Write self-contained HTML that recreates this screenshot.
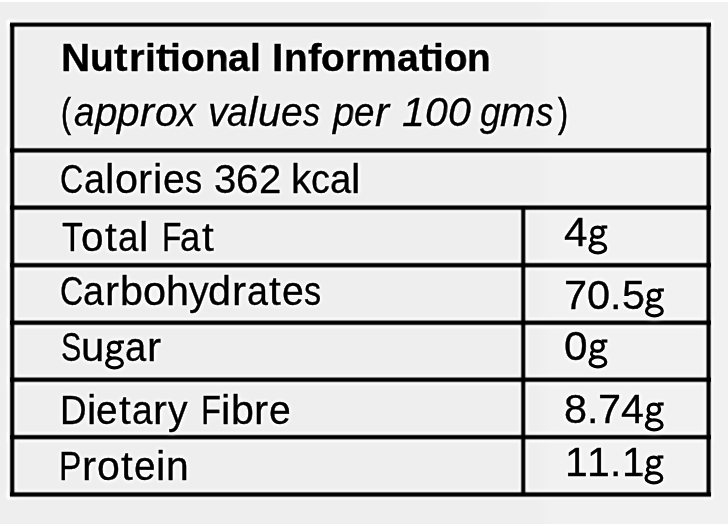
<!DOCTYPE html>
<html><head><meta charset="utf-8"><title>Nutritional Information</title>
<style>
html,body{margin:0;padding:0;}
body{width:728px;height:526px;position:relative;overflow:hidden;background:#ffffff;
 font-family:"Liberation Sans",sans-serif;color:#000;}
.bg{position:absolute;left:0;top:2px;width:728px;height:522px;background:linear-gradient(to right,#eeeeee 0,#eeeeee 536px,#f1f1f1 552px,#f1f1f1 100%);}
.glow{position:absolute;background:#fff;filter:blur(1.3px);opacity:1;}
.lh,.lv{position:absolute;}
.w{position:absolute;white-space:nowrap;line-height:1;color:#000;text-shadow:0 0 2px #fff,0 0 3px #fff,0 0 3px #fff,0 0 4px #fff,0 0 4px #fff,0 0 5px #fff,0 0 5px #fff;}
.w span{display:inline-block;transform-origin:0 0;}
.w span.hg{color:transparent;-webkit-text-stroke:0;text-shadow:none;}
.g{position:absolute;overflow:visible;filter:drop-shadow(0 0 1px #fff) drop-shadow(0 0 1.5px #fff) drop-shadow(0 0 2px #fff);}
.r{font-size:40.0px;-webkit-text-stroke:0.35px #000;}
.b{font-weight:bold;font-size:38.5px;-webkit-text-stroke:0.35px #000;}
.i{font-style:italic;font-size:40.0px;-webkit-text-stroke:0.3px #000;}
.p{font-size:41.0px;-webkit-text-stroke:0.7px #000;}
</style></head><body>
<div class="bg"></div>

<div class="glow" style="left:7.4px;top:19.9px;width:706.0px;height:9.5px"></div>
<div class="glow" style="left:7.4px;top:145.5px;width:706.0px;height:9.8px"></div>
<div class="glow" style="left:7.4px;top:202.7px;width:706.0px;height:9.8px"></div>
<div class="glow" style="left:7.4px;top:260.3px;width:706.0px;height:9.8px"></div>
<div class="glow" style="left:7.4px;top:317.8px;width:706.0px;height:9.8px"></div>
<div class="glow" style="left:7.4px;top:374.8px;width:706.0px;height:9.8px"></div>
<div class="glow" style="left:7.4px;top:432.3px;width:706.0px;height:9.7px"></div>
<div class="glow" style="left:7.4px;top:489.6px;width:706.0px;height:9.8px"></div>
<div class="glow" style="left:7.4px;top:19.9px;width:9.6px;height:479.5px"></div>
<div class="glow" style="left:703.8px;top:19.9px;width:9.6px;height:479.5px"></div>
<div class="glow" style="left:518.5px;top:205.4px;width:9.5px;height:291.3px"></div>
<div class="lh" style="left:10px;top:21px;width:701px;height:8px;background:linear-gradient(to bottom,rgba(0,0,0,0.028) 0px 1px,rgba(0,0,0,0.432) 1px 2px,rgba(0,0,0,0.940) 2px 3px,rgba(0,0,0,1.000) 3px 4px,rgba(0,0,0,0.982) 4px 5px,rgba(0,0,0,0.634) 5px 6px,rgba(0,0,0,0.084) 6px 7px,rgba(0,0,0,0.001) 7px 8px)"></div>
<div class="lh" style="left:10px;top:146px;width:701px;height:9px;background:linear-gradient(to bottom,rgba(0,0,0,0.001) 0px 1px,rgba(0,0,0,0.114) 1px 2px,rgba(0,0,0,0.696) 2px 3px,rgba(0,0,0,0.988) 3px 4px,rgba(0,0,0,1.000) 4px 5px,rgba(0,0,0,0.972) 5px 6px,rgba(0,0,0,0.568) 6px 7px,rgba(0,0,0,0.060) 7px 8px,rgba(0,0,0,0.000) 8px 9px)"></div>
<div class="lh" style="left:10px;top:203px;width:701px;height:9px;background:linear-gradient(to bottom,rgba(0,0,0,0.000) 0px 1px,rgba(0,0,0,0.060) 1px 2px,rgba(0,0,0,0.568) 2px 3px,rgba(0,0,0,0.972) 3px 4px,rgba(0,0,0,1.000) 4px 5px,rgba(0,0,0,0.988) 5px 6px,rgba(0,0,0,0.696) 6px 7px,rgba(0,0,0,0.114) 7px 8px,rgba(0,0,0,0.001) 8px 9px)"></div>
<div class="lh" style="left:10px;top:261px;width:701px;height:8px;background:linear-gradient(to bottom,rgba(0,0,0,0.004) 0px 1px,rgba(0,0,0,0.195) 1px 2px,rgba(0,0,0,0.805) 2px 3px,rgba(0,0,0,0.996) 3px 4px,rgba(0,0,0,1.000) 4px 5px,rgba(0,0,0,0.940) 5px 6px,rgba(0,0,0,0.432) 6px 7px,rgba(0,0,0,0.028) 7px 8px)"></div>
<div class="lh" style="left:10px;top:319px;width:701px;height:8px;background:linear-gradient(to bottom,rgba(0,0,0,0.041) 0px 1px,rgba(0,0,0,0.500) 1px 2px,rgba(0,0,0,0.959) 2px 3px,rgba(0,0,0,1.000) 3px 4px,rgba(0,0,0,0.993) 4px 5px,rgba(0,0,0,0.754) 5px 6px,rgba(0,0,0,0.151) 6px 7px,rgba(0,0,0,0.002) 7px 8px)"></div>
<div class="lh" style="left:10px;top:376px;width:701px;height:8px;background:linear-gradient(to bottom,rgba(0,0,0,0.041) 0px 1px,rgba(0,0,0,0.500) 1px 2px,rgba(0,0,0,0.959) 2px 3px,rgba(0,0,0,1.000) 3px 4px,rgba(0,0,0,0.993) 4px 5px,rgba(0,0,0,0.754) 5px 6px,rgba(0,0,0,0.151) 6px 7px,rgba(0,0,0,0.002) 7px 8px)"></div>
<div class="lh" style="left:10px;top:433px;width:701px;height:8px;background:linear-gradient(to bottom,rgba(0,0,0,0.004) 0px 1px,rgba(0,0,0,0.195) 1px 2px,rgba(0,0,0,0.805) 2px 3px,rgba(0,0,0,0.996) 3px 4px,rgba(0,0,0,0.999) 4px 5px,rgba(0,0,0,0.916) 5px 6px,rgba(0,0,0,0.366) 6px 7px,rgba(0,0,0,0.018) 7px 8px)"></div>
<div class="lh" style="left:10px;top:490px;width:701px;height:9px;background:linear-gradient(to bottom,rgba(0,0,0,0.001) 0px 1px,rgba(0,0,0,0.084) 1px 2px,rgba(0,0,0,0.634) 2px 3px,rgba(0,0,0,0.982) 3px 4px,rgba(0,0,0,1.000) 4px 5px,rgba(0,0,0,0.982) 5px 6px,rgba(0,0,0,0.634) 6px 7px,rgba(0,0,0,0.084) 7px 8px,rgba(0,0,0,0.001) 8px 9px)"></div>
<div class="lv" style="left:8px;top:24px;width:8px;height:472px;background:linear-gradient(to right,rgba(0,0,0,0.002) 0px 1px,rgba(0,0,0,0.151) 1px 2px,rgba(0,0,0,0.754) 2px 3px,rgba(0,0,0,0.993) 3px 4px,rgba(0,0,0,0.999) 4px 5px,rgba(0,0,0,0.916) 5px 6px,rgba(0,0,0,0.366) 6px 7px,rgba(0,0,0,0.018) 7px 8px)"></div>
<div class="lv" style="left:705px;top:24px;width:8px;height:472px;background:linear-gradient(to right,rgba(0,0,0,0.041) 0px 1px,rgba(0,0,0,0.500) 1px 2px,rgba(0,0,0,0.959) 2px 3px,rgba(0,0,0,1.000) 3px 4px,rgba(0,0,0,0.982) 4px 5px,rgba(0,0,0,0.634) 5px 6px,rgba(0,0,0,0.084) 6px 7px,rgba(0,0,0,0.001) 7px 8px)"></div>
<div class="lv" style="left:519px;top:206px;width:8px;height:290px;background:linear-gradient(to right,rgba(0,0,0,0.001) 0px 1px,rgba(0,0,0,0.114) 1px 2px,rgba(0,0,0,0.696) 2px 3px,rgba(0,0,0,0.988) 3px 4px,rgba(0,0,0,0.999) 4px 5px,rgba(0,0,0,0.916) 5px 6px,rgba(0,0,0,0.366) 6px 7px,rgba(0,0,0,0.018) 7px 8px)"></div>
<div class="w b" style="left:60.50px;top:38.61px"><span style="margin-right:1.41px;transform:scaleX(1.051)">N</span><span style="margin-right:0.27px;transform:scaleX(1.011)">u</span><span style="margin:0 1.65px 0 0.88px;transform:scaleX(1.060)">t</span><span style="margin-right:0.74px;transform:scaleX(1.049)">r</span><span style="margin-right:0.18px;transform:scaleX(1.017)">i</span><span style="margin:0 0.79px 0 0.88px;transform:scaleX(1.060)">t</span><span style="margin-right:0.18px;transform:scaleX(1.017)">i</span><span style="margin-right:0.27px;transform:scaleX(1.011)">o</span><span style="margin-right:0.27px;transform:scaleX(1.011)">n</span><span style="margin-right:0.47px;transform:scaleX(1.022)">a</span><span style="margin-right:0.18px;transform:scaleX(1.017)">l</span></div>
<div class="w b" style="left:272.07px;top:38.61px"><span style="margin:0 0.85px 0 0.21px;transform:scaleX(1.060)">I</span><span style="margin-right:0.16px;transform:scaleX(1.007)">n</span><span style="margin:0 0.95px 0 0.18px;transform:scaleX(1.060)">f</span><span style="margin-right:0.16px;transform:scaleX(1.007)">o</span><span style="margin-right:0.66px;transform:scaleX(1.044)">r</span><span style="margin-right:1.65px;transform:scaleX(1.048)">m</span><span style="margin-right:0.37px;transform:scaleX(1.017)">a</span><span style="margin:0 0.75px 0 0.85px;transform:scaleX(1.060)">t</span><span style="margin-right:0.13px;transform:scaleX(1.012)">i</span><span style="margin-right:0.16px;transform:scaleX(1.007)">o</span><span style="margin-right:0.16px;transform:scaleX(1.007)">n</span></div>
<div class="w p" style="left:60.63px;top:93.49px"><span style="margin-right:-3.64px;transform:scaleX(0.733)">(</span></div>
<div class="w i" style="left:74.00px;top:92.34px"><span style="margin-right:-1.70px;transform:scaleX(0.923)">a</span><span style="margin-right:0.28px;transform:scaleX(1.013)">p</span><span style="margin-right:0.28px;transform:scaleX(1.013)">p</span><span style="margin:0 1.21px 0 0.42px;transform:scaleX(1.060)">r</span><span style="margin-right:0.37px;transform:scaleX(1.017)">o</span><span style="margin-right:-1.43px;transform:scaleX(0.929)">x</span></div>
<div class="w i" style="left:207.63px;top:92.34px"><span style="margin-right:-0.32px;transform:scaleX(0.984)">v</span><span style="margin-right:-1.37px;transform:scaleX(0.938)">a</span><span style="margin:0 0.82px 0 0.29px;transform:scaleX(1.060)">l</span><span style="margin-right:0.65px;transform:scaleX(1.029)">u</span><span style="margin-right:-0.57px;transform:scaleX(0.975)">e</span><span style="margin-right:-2.96px;transform:scaleX(0.852)">s</span></div>
<div class="w i" style="left:332.57px;top:92.34px"><span style="margin-right:-0.66px;transform:scaleX(0.970)">p</span><span style="margin-right:-1.80px;transform:scaleX(0.919)">e</span><span style="margin:0 0.90px 0 0.10px;transform:scaleX(1.060)">r</span></div>
<div class="w i" style="left:402.27px;top:92.34px"><span style="margin-right:0.65px;transform:scaleX(1.029)">1</span><span style="margin-right:0.65px;transform:scaleX(1.029)">0</span><span style="margin-right:0.65px;transform:scaleX(1.029)">0</span></div>
<div class="w i" style="left:479.50px;top:92.34px"><span style="margin-right:-1.41px;transform:scaleX(0.936)">g</span><span style="margin:0 2.02px 0 0.02px;transform:scaleX(1.060)">m</span><span style="margin-right:-2.69px;transform:scaleX(0.866)">s</span></div>
<div class="w p" style="left:558.00px;top:93.49px"><span style="margin-right:-3.64px;transform:scaleX(0.733)">)</span></div>
<div class="w r" style="left:60.39px;top:159.34px"><span style="margin-right:-5.61px;transform:scaleX(0.806)">C</span><span style="margin-right:-1.33px;transform:scaleX(0.940)">a</span><span style="margin:0 0.83px 0 0.30px;transform:scaleX(1.060)">l</span><span style="margin-right:0.78px;transform:scaleX(1.035)">o</span><span style="margin:0 1.35px 0 0.55px;transform:scaleX(1.060)">r</span><span style="margin:0 0.83px 0 0.30px;transform:scaleX(1.060)">i</span><span style="margin-right:-0.52px;transform:scaleX(0.976)">e</span><span style="margin-right:-2.93px;transform:scaleX(0.854)">s</span></div>
<div class="w r" style="left:213.80px;top:159.34px"><span style="margin-right:0.11px;transform:scaleX(1.005)">3</span><span style="margin-right:0.11px;transform:scaleX(1.005)">6</span><span style="margin-right:0.11px;transform:scaleX(1.005)">2</span></div>
<div class="w r" style="left:290.58px;top:159.34px"><span style="margin-right:0.24px;transform:scaleX(1.012)">k</span><span style="margin-right:-1.17px;transform:scaleX(0.942)">c</span><span style="margin-right:-0.92px;transform:scaleX(0.959)">a</span><span style="margin:0 0.93px 0 0.40px;transform:scaleX(1.060)">l</span></div>
<div class="w r" style="left:62.20px;top:217.34px"><span style="margin-right:-5.59px;transform:scaleX(0.853)">T</span><span style="margin-right:0.30px;transform:scaleX(1.013)">o</span><span style="margin:0 1.94px 0 1.27px;transform:scaleX(1.060)">t</span><span style="margin-right:-1.77px;transform:scaleX(0.920)">a</span><span style="margin:0 0.73px 0 0.20px;transform:scaleX(1.060)">l</span></div>
<div class="w r" style="left:162.11px;top:217.34px"><span style="margin-right:-6.21px;transform:scaleX(0.797)">F</span><span style="margin-right:-1.95px;transform:scaleX(0.912)">a</span><span style="margin:0 1.87px 0 1.21px;transform:scaleX(1.060)">t</span></div>
<div class="w r" style="left:60.09px;top:271.34px"><span style="margin-right:-5.56px;transform:scaleX(0.807)">C</span><span style="margin-right:-1.29px;transform:scaleX(0.942)">a</span><span style="margin:0 1.36px 0 0.57px;transform:scaleX(1.060)">r</span><span style="margin-right:0.74px;transform:scaleX(1.033)">b</span><span style="margin-right:0.82px;transform:scaleX(1.037)">o</span><span style="margin-right:0.74px;transform:scaleX(1.033)">h</span><span style="margin-right:-0.20px;transform:scaleX(0.990)">y</span><span style="margin-right:0.74px;transform:scaleX(1.033)">d</span><span style="margin:0 1.36px 0 0.57px;transform:scaleX(1.060)">r</span><span style="margin-right:-1.29px;transform:scaleX(0.942)">a</span><span style="margin:0 2.10px 0 1.44px;transform:scaleX(1.060)">t</span><span style="margin-right:-0.48px;transform:scaleX(0.978)">e</span><span style="margin-right:-2.89px;transform:scaleX(0.855)">s</span></div>
<div class="w r" style="left:60.74px;top:327.34px"><span style="margin-right:-6.30px;transform:scaleX(0.764)">S</span><span style="margin-right:1.06px;transform:scaleX(1.048)">u</span><span class="hg" style="margin-right:-1.37px;transform:scaleX(0.939)">g</span><span style="margin-right:-1.00px;transform:scaleX(0.955)">a</span><span style="margin:0 1.47px 0 0.67px;transform:scaleX(1.060)">r</span></div>
<svg class="g" width="28" height="38" viewBox="0 0 28 38" style="left:102px;top:337px"><g transform="translate(3.20,24.00)" fill="none" stroke="#000"><ellipse cx="9.0" cy="-13.8" rx="5.65" ry="5.1" stroke-width="3.4"/><rect x="13.0" y="-20.6" width="5.8" height="3.2" fill="#000" stroke="none"/><path d="M4.8,-9.4 Q0.2,-5.4 6.0,-3.0" stroke-width="3.0" stroke-linecap="round"/><ellipse cx="9.3" cy="1.9" rx="7.9" ry="5.0" stroke-width="3.2"/></g></svg>
<div class="w r" style="left:59.74px;top:390.34px"><span style="margin-right:-2.28px;transform:scaleX(0.921)">D</span><span style="margin:0 0.78px 0 0.25px;transform:scaleX(1.060)">i</span><span style="margin-right:-0.73px;transform:scaleX(0.967)">e</span><span style="margin:0 2.02px 0 1.35px;transform:scaleX(1.060)">t</span><span style="margin-right:-1.53px;transform:scaleX(0.931)">a</span><span style="margin:0 0.85px 0 0.48px;transform:scaleX(1.060)">r</span><span style="margin-right:-0.43px;transform:scaleX(0.979)">y</span></div>
<div class="w r" style="left:200.54px;top:390.34px"><span style="margin-right:-4.39px;transform:scaleX(0.820)">F</span><span style="margin:0 0.83px 0 0.30px;transform:scaleX(1.060)">i</span><span style="margin-right:0.67px;transform:scaleX(1.030)">b</span><span style="margin:0 1.34px 0 0.54px;transform:scaleX(1.060)">r</span><span style="margin-right:-0.54px;transform:scaleX(0.976)">e</span></div>
<div class="w r" style="left:59.49px;top:446.34px"><span style="margin-right:-4.35px;transform:scaleX(0.837)">P</span><span style="margin:0 1.27px 0 0.47px;transform:scaleX(1.060)">r</span><span style="margin-right:0.55px;transform:scaleX(1.025)">o</span><span style="margin:0 2.02px 0 1.35px;transform:scaleX(1.060)">t</span><span style="margin-right:-0.74px;transform:scaleX(0.967)">e</span><span style="margin:0 0.78px 0 0.25px;transform:scaleX(1.060)">i</span><span style="margin-right:0.46px;transform:scaleX(1.021)">n</span></div>
<div class="w r" style="left:563.84px;top:212.34px"><span style="margin:0 1.50px 0 0.16px;transform:scaleX(1.060)">4</span><span class="hg" style="margin-right:-0.05px;transform:scaleX(0.998)">g</span></div>
<svg class="g" width="28" height="38" viewBox="0 0 28 38" style="left:585px;top:222px"><g transform="translate(3.50,24.00)" fill="none" stroke="#000"><ellipse cx="9.0" cy="-13.8" rx="5.65" ry="5.1" stroke-width="3.4"/><rect x="13.0" y="-20.6" width="5.8" height="3.2" fill="#000" stroke="none"/><path d="M4.8,-9.4 Q0.2,-5.4 6.0,-3.0" stroke-width="3.0" stroke-linecap="round"/><ellipse cx="9.3" cy="1.9" rx="7.9" ry="5.0" stroke-width="3.2"/></g></svg>
<div class="w r" style="left:563.92px;top:275.34px"><span style="margin-right:0.85px;transform:scaleX(1.038)">7</span><span style="margin-right:0.85px;transform:scaleX(1.038)">0</span><span style="margin-right:0.39px;transform:scaleX(1.035)">.</span><span style="margin-right:0.85px;transform:scaleX(1.038)">5</span><span class="hg" style="margin-right:-0.80px;transform:scaleX(0.964)">g</span></div>
<svg class="g" width="28" height="38" viewBox="0 0 28 38" style="left:642px;top:285px"><g transform="translate(3.10,24.00)" fill="none" stroke="#000"><ellipse cx="9.0" cy="-13.8" rx="5.65" ry="5.1" stroke-width="3.4"/><rect x="13.0" y="-20.6" width="5.8" height="3.2" fill="#000" stroke="none"/><path d="M4.8,-9.4 Q0.2,-5.4 6.0,-3.0" stroke-width="3.0" stroke-linecap="round"/><ellipse cx="9.3" cy="1.9" rx="7.9" ry="5.0" stroke-width="3.2"/></g></svg>
<div class="w r" style="left:563.46px;top:326.34px"><span style="margin:0 1.52px 0 0.18px;transform:scaleX(1.060)">0</span><span class="hg" style="margin-right:-0.01px;transform:scaleX(1.000)">g</span></div>
<svg class="g" width="28" height="38" viewBox="0 0 28 38" style="left:585px;top:336px"><g transform="translate(3.60,24.00)" fill="none" stroke="#000"><ellipse cx="9.0" cy="-13.8" rx="5.65" ry="5.1" stroke-width="3.4"/><rect x="13.0" y="-20.6" width="5.8" height="3.2" fill="#000" stroke="none"/><path d="M4.8,-9.4 Q0.2,-5.4 6.0,-3.0" stroke-width="3.0" stroke-linecap="round"/><ellipse cx="9.3" cy="1.9" rx="7.9" ry="5.0" stroke-width="3.2"/></g></svg>
<div class="w r" style="left:563.97px;top:389.34px"><span style="margin-right:0.77px;transform:scaleX(1.035)">8</span><span style="margin-right:0.35px;transform:scaleX(1.032)">.</span><span style="margin-right:0.77px;transform:scaleX(1.035)">7</span><span style="margin-right:0.77px;transform:scaleX(1.035)">4</span><span class="hg" style="margin-right:-0.87px;transform:scaleX(0.961)">g</span></div>
<svg class="g" width="28" height="38" viewBox="0 0 28 38" style="left:641px;top:399px"><g transform="translate(3.90,24.00)" fill="none" stroke="#000"><ellipse cx="9.0" cy="-13.8" rx="5.65" ry="5.1" stroke-width="3.4"/><rect x="13.0" y="-20.6" width="5.8" height="3.2" fill="#000" stroke="none"/><path d="M4.8,-9.4 Q0.2,-5.4 6.0,-3.0" stroke-width="3.0" stroke-linecap="round"/><ellipse cx="9.3" cy="1.9" rx="7.9" ry="5.0" stroke-width="3.2"/></g></svg>
<div class="w r" style="left:564.73px;top:442.34px"><span style="margin-right:0.53px;transform:scaleX(1.024)">1</span><span style="margin-right:0.53px;transform:scaleX(1.024)">1</span><span style="margin-right:0.23px;transform:scaleX(1.021)">.</span><span style="margin-right:0.53px;transform:scaleX(1.024)">1</span><span class="hg" style="margin-right:-1.10px;transform:scaleX(0.951)">g</span></div>
<svg class="g" width="28" height="38" viewBox="0 0 28 38" style="left:641px;top:452px"><g transform="translate(3.60,24.00)" fill="none" stroke="#000"><ellipse cx="9.0" cy="-13.8" rx="5.65" ry="5.1" stroke-width="3.4"/><rect x="13.0" y="-20.6" width="5.8" height="3.2" fill="#000" stroke="none"/><path d="M4.8,-9.4 Q0.2,-5.4 6.0,-3.0" stroke-width="3.0" stroke-linecap="round"/><ellipse cx="9.3" cy="1.9" rx="7.9" ry="5.0" stroke-width="3.2"/></g></svg>
<div class="lh" style="left:167px;top:49px;width:6px;height:5px;background:linear-gradient(to bottom,rgba(0,0,0,.25) 0 1px,#000 1px 4px,rgba(0,0,0,.62) 4px 5px)"></div>
<div class="lh" style="left:430px;top:49px;width:6px;height:5px;background:linear-gradient(to bottom,rgba(0,0,0,.25) 0 1px,#000 1px 4px,rgba(0,0,0,.62) 4px 5px)"></div>
</body></html>
